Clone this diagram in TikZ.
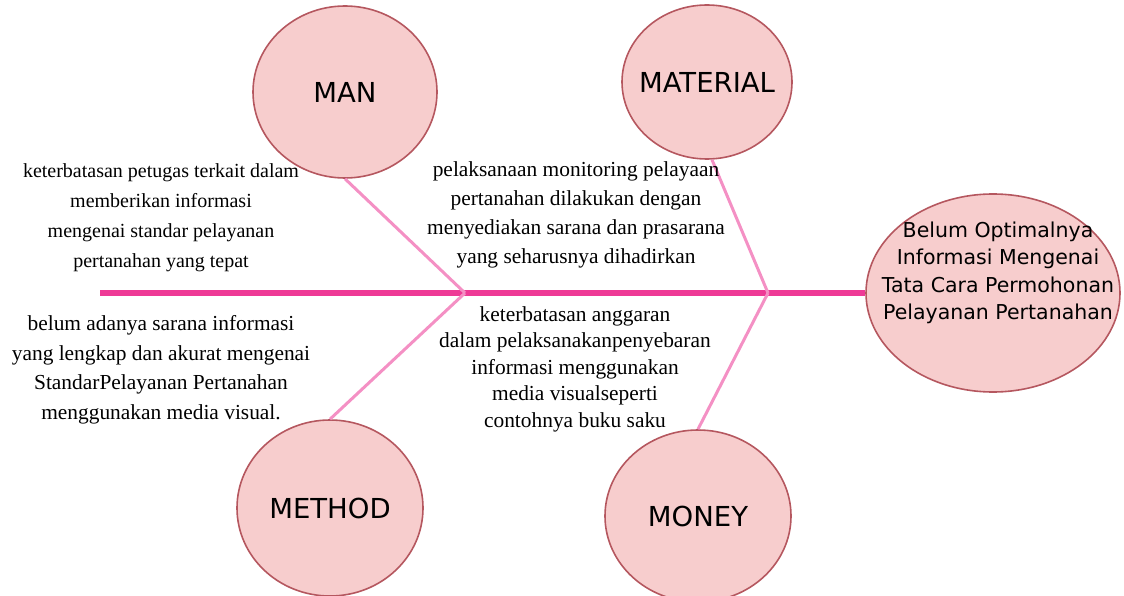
\documentclass[tikz,border=0pt]{standalone}
\usepackage{fontspec}
\setmainfont{Liberation Serif}
\newfontfamily\circfont{DejaVu Sans}
\usetikzlibrary{shapes.geometric}
\definecolor{spinec}{HTML}{EE3A96}
\definecolor{bonec}{HTML}{F490C4}
\definecolor{circfill}{HTML}{F7CDCD}
\definecolor{circdraw}{HTML}{B5575F}
\begin{document}
\begin{tikzpicture}[x=1pt,y=-1pt,
  cause/.style={ellipse,draw=circdraw,fill=circfill,line width=1.6pt,inner sep=0pt,text=black,font=\circfont\fontsize{27.5}{30}\selectfont},
  spine/.style={draw=spinec,line width=6pt},
  bone/.style={draw=bonec,line width=3pt},
  note/.style={align=center,inner sep=0pt,text=black}]
\useasboundingbox (0,0) rectangle (1124,596);
% circles
\node[cause,minimum width=184pt,minimum height=172pt] (man) at (345,92) {\makebox[0pt]{MAN}};
\node[cause,minimum width=170pt,minimum height=154pt] (material) at (707,82) {\makebox[0pt]{MATERIAL}};
\node[cause,minimum width=186pt,minimum height=176pt] (method) at (330,508) {\makebox[0pt]{METHOD}};
\node[cause,minimum width=186pt,minimum height=172pt] (money) at (698,516) {\makebox[0pt]{MONEY}};
\node[cause,minimum width=254pt,minimum height=198pt,
  label={[font=\circfont\fontsize{20.5}{27.5}\selectfont,align=center,text=black,yshift=20pt,xshift=5pt]center:Belum Optimalnya\\Informasi Mengenai\\Tata Cara Permohonan\\Pelayanan Pertanahan}] (effect) at (993,293) {};
% spine
\coordinate (tail) at (100,293);
\coordinate (j1) at (465,293);
\coordinate (j2) at (768,293);
\draw[spine] (tail) -- (effect.west);
% bones
\draw[bone] (man.south) -- (j1);
\draw[bone] (material.south) ++(5,0) coordinate (matb) -- (j2);
\draw[bone] (j1) -- (method.north);
\draw[bone] (j2) -- (money.north);
% texts
\node[note,font=\fontsize{20}{30}\selectfont] (t1) at (161,218)
  {keterbatasan petugas terkait dalam\\memberikan informasi\\mengenai standar pelayanan\\pertanahan yang tepat};
\node[note,font=\fontsize{21.4}{29.5}\selectfont] (t2) at (161,370)
  {belum adanya sarana informasi\\yang lengkap dan akurat mengenai\\StandarPelayanan Pertanahan\\menggunakan media visual.};
\node[note,font=\fontsize{21.4}{29}\selectfont] (t3) at (576,215)
  {pelaksanaan monitoring pelayaan\\pertanahan dilakukan dengan\\menyediakan sarana dan prasarana\\yang seharusnya dihadirkan};
\node[note,font=\fontsize{21.4}{26.5}\selectfont] (t4) at (575,369)
  {keterbatasan anggaran\\dalam pelaksanakanpenyebaran\\informasi menggunakan\\media visualseperti\\contohnya buku saku};
\end{tikzpicture}
\end{document}
